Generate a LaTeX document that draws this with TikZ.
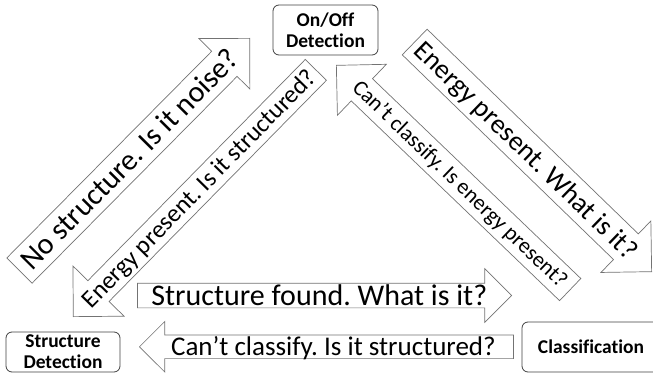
\documentclass[tikz,border=0pt]{standalone}
\usepackage{fontspec}
\setmainfont{Carlito}[Ligatures=NoCommon]
\usetikzlibrary{shapes.arrows}

\tikzset{
  stagebox/.style={draw=black!75, rounded corners=6pt, fill=white, line width=0.8pt,
    font=\bfseries\fontsize{19.5}{21}\selectfont, align=center, inner sep=0pt},
  flowarrow/.style={single arrow, draw=black!55, line width=0.7pt, fill=white,
    single arrow tip angle=90, inner sep=0pt, anchor=tip},
}
% label of a block arrow, pushed by #1/2 along the text
\newcommand{\arrowlabel}[2]{\makebox[0pt]{\hspace{#1}#2}}

\begin{document}
\frenchspacing
\begin{tikzpicture}[x=1pt, y=-1pt]
  \useasboundingbox (0,0) rectangle (653,377);

  % stages
  \node[stagebox, minimum width=105pt, minimum height=50pt] (onoff) at (325.5,30) {On/Off\\Detection};
  \node[stagebox, minimum width=114pt, minimum height=40pt] (struct) at (63,352) {Structure\\Detection};
  \node[stagebox, minimum width=138pt, minimum height=50pt] (classif) at (591,347) {Classification};

  % transitions between the stages (placed by their tips)
  \node[flowarrow, rotate=45.25, minimum height=327pt, single arrow head extend=18pt,
        text height=27pt, text depth=8pt, font=\fontsize{30}{36}\selectfont]
        (noise) at (250,38) {\arrowlabel{4pt}{No structure. Is it noise?}};
  \node[flowarrow, rotate=45.5, shape border rotate=180, minimum height=346pt,
        single arrow head extend=21pt, text height=22.4pt, text depth=6.6pt,
        font=\fontsize{25}{30}\selectfont]
        (isstruct) at (73,317) {\arrowlabel{-2pt}{Energy present. Is it structured?}};
  \node[flowarrow, rotate=-44.1, minimum height=330pt, single arrow head extend=18pt,
        text height=26.4pt, text depth=8.6pt, font=\fontsize{27.5}{33}\selectfont]
        (whatis) at (652,272) {\arrowlabel{-1pt}{Energy present. What is it?}};
  \node[flowarrow, rotate=-43.8, shape border rotate=180, minimum height=324pt,
        single arrow head extend=20pt, text height=22pt, text depth=8pt,
        font=\fontsize{22}{26}\selectfont]
        (isenergy) at (336,65) {\arrowlabel{4pt}{Can’t classify. Is energy present?}};
  \node[flowarrow, minimum height=374pt, single arrow head extend=14.5pt,
        text height=21.5pt, text depth=2.5pt, font=\fontsize{30}{36}\selectfont]
        (found) at (512,295.5) {\arrowlabel{2pt}{Structure found. What is it?}};
  \node[flowarrow, shape border rotate=180, minimum height=374pt,
        single arrow head extend=13.5pt, text height=20pt, text depth=3pt,
        font=\fontsize{27}{32}\selectfont]
        (cantclass) at (139,346.75) {\arrowlabel{2pt}{Can’t classify. Is it structured?}};
\end{tikzpicture}
\end{document}
